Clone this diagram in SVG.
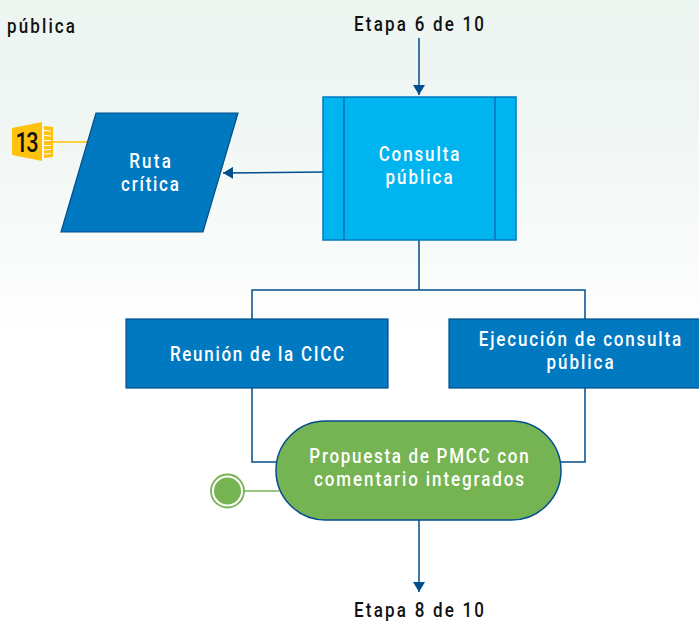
<svg xmlns="http://www.w3.org/2000/svg" width="699" height="622" viewBox="0 0 699 622">
<defs>
<linearGradient id="bg" x1="0" y1="0" x2="0" y2="1"><stop offset="0" stop-color="#edf5f1"/><stop offset="0.2" stop-color="#f0f6f3"/><stop offset="0.55" stop-color="#ffffff"/><stop offset="1" stop-color="#ffffff"/></linearGradient>
<marker id="arr" markerUnits="userSpaceOnUse" markerWidth="11" markerHeight="12" refX="10" refY="6" orient="auto"><path d="M0 0L10 6L0 12Z" fill="#004e8c"/></marker>
</defs>
<style>
text{font-family:"Roboto","Liberation Sans",sans-serif;font-size:20px;font-weight:500;text-anchor:middle}
.w{fill:#fff}
.k{fill:#111}
.c{fill:none;stroke:#004e8c;stroke-width:1.5}
.b{fill:#0079c1;stroke:#004e8c;stroke-width:1.2}
</style>
<rect width="699" height="622" fill="url(#bg)"/>
<text class="k" transform="translate(41 33) scale(.85 1)" textLength="80" lengthAdjust="spacing">pública</text>
<g id="connectors">
<path class="c" d="M419 38V95" marker-end="url(#arr)"/>
<path class="c" d="M323 172L223 173" marker-end="url(#arr)"/>
<path class="c" d="M419 240V290M252 319V290H585V319"/>
<path class="c" d="M252 388V462H277M585 388V462H561"/>
<path class="c" d="M419 520V592" marker-end="url(#arr)"/>
<path d="M53 142H87" fill="none" stroke="#ffc20e" stroke-width="1.5"/>
<path d="M244 491H279" fill="none" stroke="#76b352" stroke-width="1.5"/>
</g>
<g id="etapa6"><text class="k" transform="translate(419 31) scale(.85 1)" textLength="153" lengthAdjust="spacing">Etapa 6 de 10</text></g>
<g id="etapa8"><text class="k" transform="translate(419 617) scale(.85 1)" textLength="153" lengthAdjust="spacing">Etapa 8 de 10</text></g>
<g id="badge13">
<path d="M12 128L42 122V161L12 155Z" fill="#ffc20e"/>
<path d="M44 126L53 127V157L44 158Z" fill="#ffc20e"/>
<path d="M44 130.500L51 131M44 135.500L51 136M44 140.500L51 140.500M44 145.500L51 145.500M44 150L51 149.500M44 154L51 153.500" stroke="#fff" stroke-width="1" fill="none"/>
<text transform="translate(27 152) scale(.8 1)" fill="#111" style="font-size:27px;font-weight:500" textLength="29" lengthAdjust="spacing">13</text>
</g>
<g id="ruta">
<path class="b" d="M96 113H238L203 232H61Z"/>
<text class="w" transform="translate(150 168) scale(.85 1)" textLength="49" lengthAdjust="spacing">Ruta</text>
<text class="w" transform="translate(150 191) scale(.85 1)" textLength="68" lengthAdjust="spacing">crítica</text>
</g>
<g id="consulta">
<rect x="323" y="97" width="193" height="143" fill="#00b5ef" stroke="#0079c1" stroke-width="1.5"/>
<path d="M344 97V240M495 97V240" stroke="#0b6fb5" stroke-width="1.5" fill="none"/>
<text class="w" transform="translate(419 161) scale(.85 1)" textLength="95" lengthAdjust="spacing">Consulta</text>
<text class="w" transform="translate(419 184) scale(.85 1)" textLength="79" lengthAdjust="spacing">pública</text>
</g>
<g id="reunion">
<rect class="b" x="126" y="319" width="262" height="69"/>
<text class="w" transform="translate(257 361) scale(.85 1)" textLength="205" lengthAdjust="spacing">Reunión de la CICC</text>
</g>
<g id="ejecucion">
<rect class="b" x="449" y="319" width="252" height="69"/>
<text class="w" transform="translate(580 346) scale(.85 1)" textLength="238" lengthAdjust="spacing">Ejecución de consulta</text>
<text class="w" transform="translate(580 369) scale(.85 1)" textLength="79" lengthAdjust="spacing">pública</text>
</g>
<g id="propuesta">
<rect x="276" y="421" width="285" height="99" rx="49.500" fill="#76b352" stroke="#004e8c" stroke-width="1.5"/>
<text class="w" transform="translate(419 463) scale(.85 1)" textLength="258" lengthAdjust="spacing">Propuesta de PMCC con</text>
<text class="w" transform="translate(419 486) scale(.85 1)" textLength="247" lengthAdjust="spacing">comentario integrados</text>
</g>
<g id="inicio">
<circle cx="227.500" cy="491" r="16.500" fill="#fff" stroke="#76b352" stroke-width="1.800"/>
<circle cx="227.500" cy="491" r="13.500" fill="#76b352"/>
</g>
</svg>
